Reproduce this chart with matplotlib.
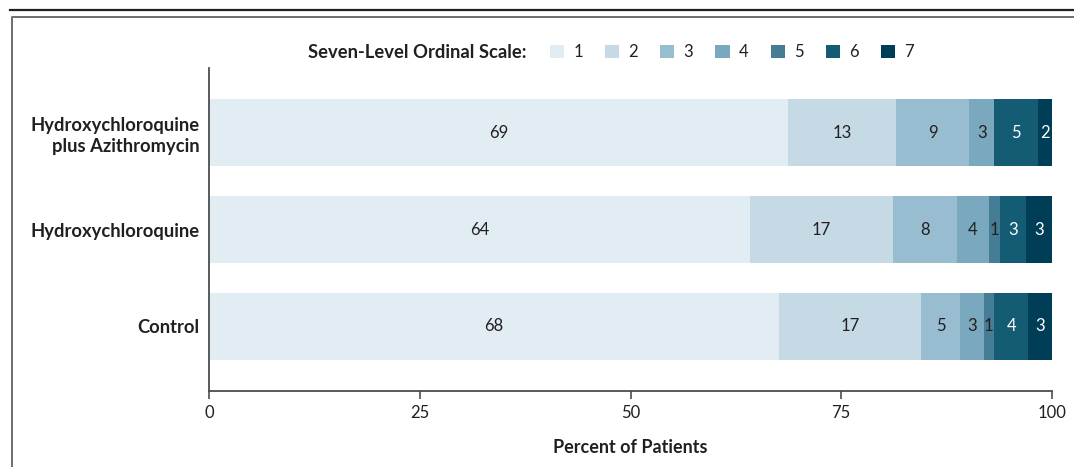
import matplotlib
matplotlib.use("Agg")
import matplotlib.pyplot as plt
from matplotlib.lines import Line2D
import numpy as np

plt.rcParams['font.family'] = ['Lato', 'DejaVu Sans']

groups = ["Hydroxychloroquine\nplus Azithromycin", "Hydroxychloroquine", "Control"]
levels = ["1", "2", "3", "4", "5", "6", "7"]
# percent of patients per ordinal level (columns = levels 1..7)
level1 = [68.7, 64.2, 67.6]
level2 = [12.8, 16.9, 16.9]
level3 = [8.7, 7.6, 4.6]
level4 = [2.9, 3.8, 2.8]
level5 = [0.0, 1.3, 1.2]
level6 = [5.2, 3.1, 4.1]
level7 = [1.7, 3.1, 2.8]
series = [level1, level2, level3, level4, level5, level6, level7]

colors = ["#e2edf3", "#c6dae5", "#98bdd0", "#79a8bf", "#447d95", "#135c74", "#003e58"]
text_colors = ["#231f20"] * 5 + ["white", "white"]

W, H = 1074, 467
fig = plt.figure(figsize=(W / 100, H / 100), dpi=100)

# frame decorations
fig.add_artist(Line2D([10 / W, 1.0], [1 - 10 / H, 1 - 10 / H], color="#231f20", lw=1.6,
                      transform=fig.transFigure))
fig.add_artist(Line2D([12 / W, 12 / W, 1.0], [0.0, 1 - 16.5 / H, 1 - 16.5 / H], color="#6d6e70",
                      lw=1.4, transform=fig.transFigure))

ax = fig.add_axes([209 / W, 1 - 391 / H, (1052 - 209) / W, (391 - 68) / H])

y = np.arange(len(groups))
left = np.zeros(len(groups))
containers = []
for i, vals in enumerate(series):
    vals = np.array(vals)
    c = ax.barh(y, vals, left=left, height=0.695, color=colors[i], label=levels[i],
                edgecolor="none")
    labels = [f"{round(v)}" if v > 0 else "" for v in vals]
    ax.bar_label(c, labels=labels, label_type="center", color=text_colors[i],
                 fontsize=12)
    containers.append(c)
    left = left + vals

ax.set_xlim(0, 100)
ax.set_ylim(2.668, -0.668)
ax.set_yticks(y)
ax.set_yticklabels(groups, fontsize=13.2, fontweight="bold", color="#231f20",
                   linespacing=1.3)
ax.tick_params(axis="y", length=0, pad=7)
ax.set_xticks([0, 25, 50, 75, 100])
ax.tick_params(axis="x", length=6, width=1.2, color="#4d4d4f", labelsize=12,
               labelcolor="#231f20", pad=4)
for s in ["top", "right"]:
    ax.spines[s].set_visible(False)
for s in ["left", "bottom"]:
    ax.spines[s].set_color("#4d4d4f")
    ax.spines[s].set_linewidth(1.3)
ax.set_xlabel("Percent of Patients", fontsize=13, fontweight="bold", color="#231f20",
              labelpad=13)

fig.text(527 / W, 1 - 53 / H, "Seven-Level Ordinal Scale:", ha="right", va="center",
         fontsize=13.2, fontweight="bold", color="#231f20")
leg = fig.legend(handles=containers, labels=levels, ncol=7, loc="center left",
                 bbox_to_anchor=(550 / W, 1 - 52 / H), frameon=False, fontsize=12,
                 handlelength=0.85, handleheight=0.85, handletextpad=0.55,
                 columnspacing=1.33, borderpad=0, borderaxespad=0,
                 labelcolor="#231f20")

fig.savefig("out.png", dpi=100)
